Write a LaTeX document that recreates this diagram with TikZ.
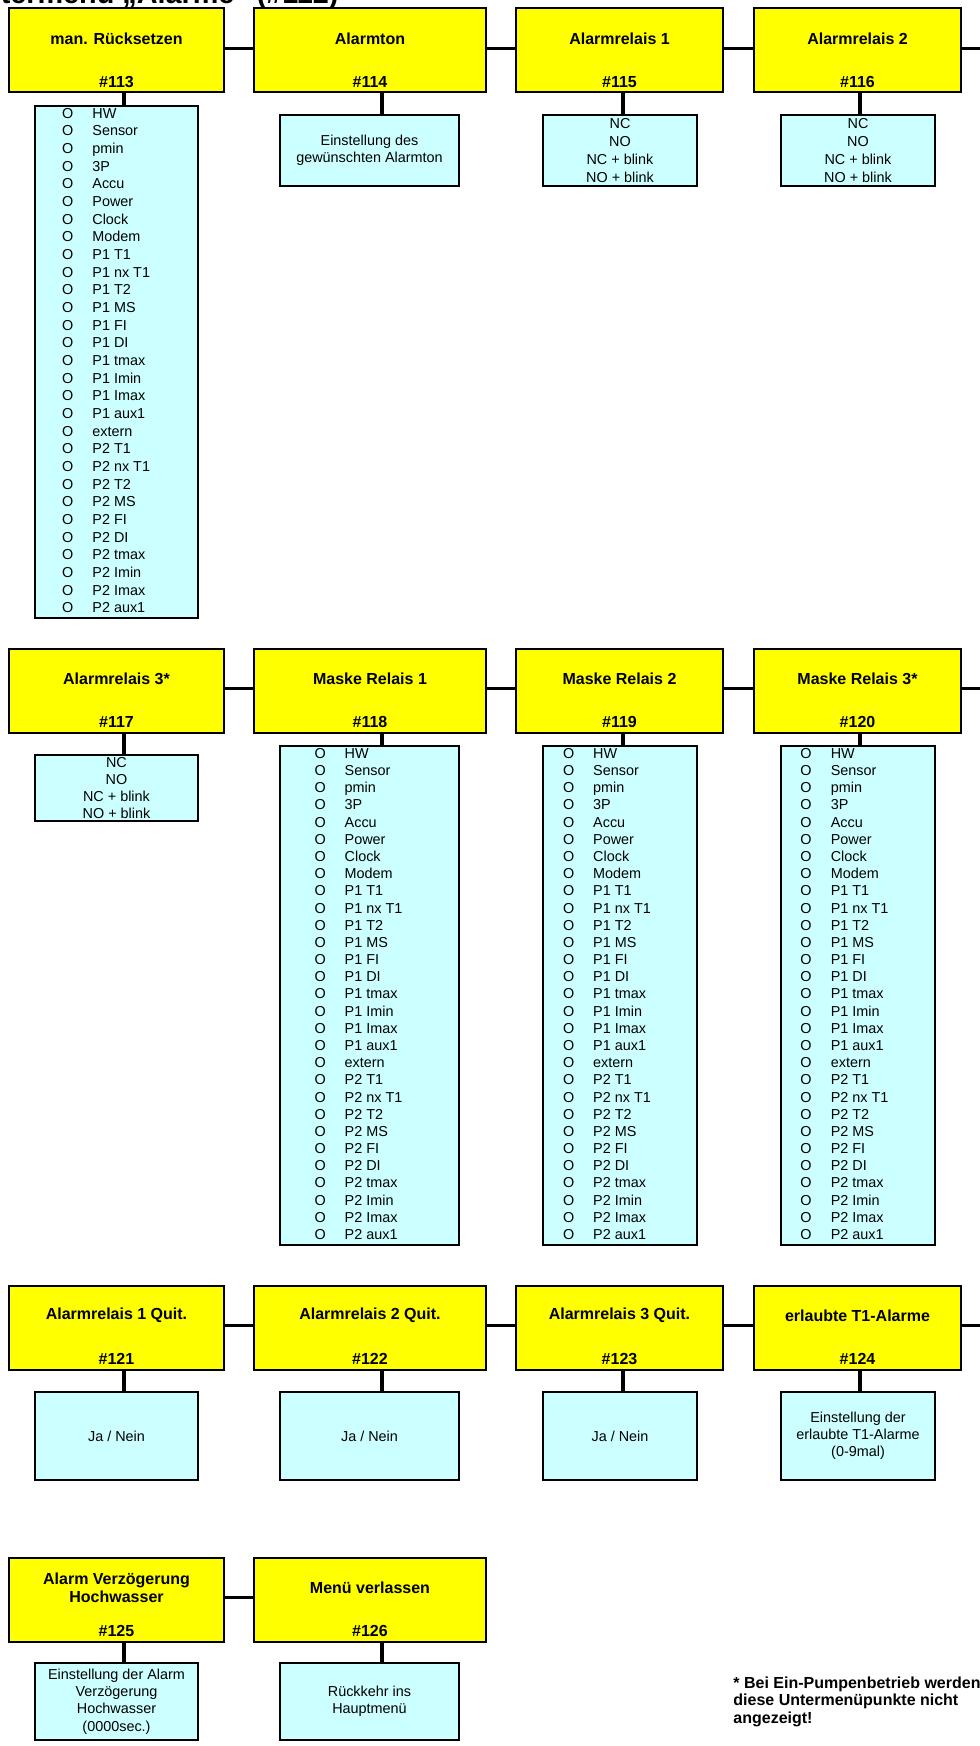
\documentclass[tikz,border=0pt]{standalone}
\usepackage{fontspec}
\setmainfont{Liberation Sans}
\usetikzlibrary{positioning}

\definecolor{menugelb}{RGB}{255,255,0}
\definecolor{listcyan}{RGB}{204,255,255}

\newcommand{\alarmliste}[4]{\makebox[#4][l]{\fontsize{7.2pt}{#3}\selectfont
\begin{tabular}{@{\hspace{#1}}l@{\hspace{#2}}l@{}}
O & HW\\ O & Sensor\\ O & pmin\\ O & 3P\\ O & Accu\\ O & Power\\ O & Clock\\ O & Modem\\
O & P1 T1\\ O & P1 nx T1\\ O & P1 T2\\ O & P1 MS\\ O & P1 FI\\ O & P1 DI\\
O & P1 tmax\\ O & P1 Imin\\ O & P1 Imax\\ O & P1 aux1\\ O & extern\\
O & P2 T1\\ O & P2 nx T1\\ O & P2 T2\\ O & P2 MS\\ O & P2 FI\\ O & P2 DI\\
O & P2 tmax\\ O & P2 Imin\\ O & P2 Imax\\ O & P2 aux1
\end{tabular}}}

\tikzset{
  menu/.style={draw, line width=1pt, fill=menugelb, minimum width=#1, minimum height=42pt, inner sep=0pt},
  sub/.style={draw, line width=1pt, fill=listcyan, minimum width=#1, inner sep=0pt, align=center,
    font=\fontsize{7.2pt}{8.6pt}\selectfont},
  ttl/.style={anchor=center, yshift=-15.5pt, align=center, font=\bfseries\fontsize{8pt}{9pt}\selectfont},
  nr/.style={anchor=center, yshift=5.8pt, font=\bfseries\fontsize{8pt}{9pt}\selectfont},
  link/.style={line width=1.6pt},
}

\begin{document}
\begin{tikzpicture}[x=0.5pt,y=-0.5pt]
\useasboundingbox[fill=white] (0,0) rectangle (980,1746);
\coordinate (rand) at (980,0);

\node[anchor=base west, inner sep=0pt, font=\bfseries\fontsize{14.4pt}{17pt}\selectfont] (kopf) at (-38,3) {Untermenü „Alarme“ (\#112)};

% Zeile 1
\node[menu=107.5pt, label={[ttl]above:man. Rücksetzen}, label={[nr]below:\#113}] (m113) at (116.5,50.3) {};
\node[menu=116pt, label={[ttl]above:Alarmton}, label={[nr]below:\#114}] (m114) at (370,50.3) {};
\node[menu=103.5pt, label={[ttl]above:Alarmrelais 1}, label={[nr]below:\#115}] (m115) at (619.5,50.3) {};
\node[menu=103.5pt, label={[ttl]above:Alarmrelais 2}, label={[nr]below:\#116}] (m116) at (857.5,50.3) {};

\node[sub=81.5pt, minimum height=247pt] (s113) at (116.5,362) {\alarmliste{13.6pt}{9.5pt}{8.83pt}{81.5pt}};
\node[sub=89.5pt, minimum height=35.5pt] (s114) at (369.5,150.5) {Einstellung des\\gewünschten Alarmton};
\node[sub=77pt, minimum height=35.5pt, font=\fontsize{7.2pt}{9pt}\selectfont] (s115) at (620,150.5) {NC\\NO\\NC + blink\\NO + blink};
\node[sub=77pt, minimum height=35.5pt, font=\fontsize{7.2pt}{9pt}\selectfont] (s116) at (858,150.5) {NC\\NO\\NC + blink\\NO + blink};

% Zeile 2
\node[menu=107.5pt, label={[ttl]above:Alarmrelais 3*}, label={[nr]below:\#117}] (m117) at (116.5,690.8) {};
\node[menu=116pt, label={[ttl]above:Maske Relais 1}, label={[nr]below:\#118}] (m118) at (370,690.8) {};
\node[menu=103.5pt, label={[ttl]above:Maske Relais 2}, label={[nr]below:\#119}] (m119) at (619.5,690.8) {};
\node[menu=103.5pt, label={[ttl]above:Maske Relais 3*}, label={[nr]below:\#120}] (m120) at (857.5,690.8) {};

\node[sub=81.5pt, minimum height=33pt, font=\fontsize{7.2pt}{8.35pt}\selectfont] (s117) at (116.5,788) {NC\\NO\\NC + blink\\NO + blink};
\node[sub=89.5pt, minimum height=240.5pt] (s118) at (369.5,995.5) {\alarmliste{17.35pt}{9.4pt}{8.59pt}{89.5pt}};
\node[sub=77pt, minimum height=240.5pt] (s119) at (620,995.5) {\alarmliste{10.05pt}{9.45pt}{8.59pt}{77pt}};
\node[sub=77pt, minimum height=240.5pt] (s120) at (858,995.5) {\alarmliste{9.7pt}{9.6pt}{8.59pt}{77pt}};

% Zeile 3
\node[menu=107.5pt, label={[ttl]above:Alarmrelais 1 Quit.}, label={[nr]below:\#121}] (m121) at (116.5,1327.7) {};
\node[menu=116pt, label={[ttl]above:Alarmrelais 2 Quit.}, label={[nr]below:\#122}] (m122) at (370,1327.7) {};
\node[menu=103.5pt, label={[ttl]above:Alarmrelais 3 Quit.}, label={[nr]below:\#123}] (m123) at (619.5,1327.7) {};
\node[menu=103.5pt, label={[ttl]above:erlaubte T1-Alarme}, label={[nr]below:\#124}] (m124) at (857.5,1327.7) {};

\node[sub=81.5pt, minimum height=44pt] (s121) at (116.5,1436) {Ja / Nein};
\node[sub=89.5pt, minimum height=44pt] (s122) at (369.5,1436) {Ja / Nein};
\node[sub=77pt, minimum height=44pt] (s123) at (620,1436) {Ja / Nein};
\node[sub=77pt, minimum height=44pt] (s124) at (858,1436) {Einstellung der\\erlaubte T1-Alarme\\(0-9mal)};

% Zeile 4
\node[menu=107.5pt, label={[ttl]above:Alarm Verzögerung\\Hochwasser}, label={[nr]below:\#125}] (m125) at (116.5,1599.7) {};
\node[menu=116pt, label={[ttl]above:Menü verlassen}, label={[nr]below:\#126}] (m126) at (370,1599.7) {};

\node[sub=81.5pt, minimum height=38.5pt] (s125) at (116.5,1701.5) {Einstellung der Alarm\\Verzögerung\\Hochwasser\\(0000sec.)};
\node[sub=89.5pt, minimum height=38.5pt] (s126) at (369.5,1701.5) {Rückkehr ins\\Hauptmenü};

\node[anchor=north west, inner sep=0pt, align=left, font=\bfseries\fontsize{8pt}{8.75pt}\selectfont] (hinweis) at (733,1676)
  {* Bei Ein-Pumpenbetrieb werden\\diese Untermenüpunkte nicht\\angezeigt!};

\path[link]
  ([yshift=1pt]m113.east) edge ([yshift=1pt]m114.west)
  ([yshift=1pt]m114.east) edge ([yshift=1pt]m115.west)
  ([yshift=1pt]m115.east) edge ([yshift=1pt]m116.west)
  ([yshift=1pt]m116.east) edge ([yshift=1pt]m116.east -| rand)
  ([yshift=1pt]m117.east) edge ([yshift=1pt]m118.west)
  ([yshift=1pt]m118.east) edge ([yshift=1pt]m119.west)
  ([yshift=1pt]m119.east) edge ([yshift=1pt]m120.west)
  ([yshift=1pt]m120.east) edge ([yshift=1pt]m120.east -| rand)
  ([yshift=1pt]m121.east) edge ([yshift=1pt]m122.west)
  ([yshift=1pt]m122.east) edge ([yshift=1pt]m123.west)
  ([yshift=1pt]m123.east) edge ([yshift=1pt]m124.west)
  ([yshift=1pt]m124.east) edge ([yshift=1pt]m124.east -| rand)
  ([yshift=1pt]m125.east) edge ([yshift=1pt]m126.west);

\path[link]
  ([xshift=3.75pt]m113.south) edge ([xshift=3.75pt]m113.south |- s113.north)
  ([xshift=6pt]m114.south) edge ([xshift=6pt]m114.south |- s114.north)
  ([xshift=1.75pt]m115.south) edge ([xshift=1.75pt]m115.south |- s115.north)
  ([xshift=1.25pt]m116.south) edge ([xshift=1.25pt]m116.south |- s116.north)
  ([xshift=3.75pt]m117.south) edge ([xshift=3.75pt]m117.south |- s117.north)
  ([xshift=6pt]m118.south) edge ([xshift=6pt]m118.south |- s118.north)
  ([xshift=1.75pt]m119.south) edge ([xshift=1.75pt]m119.south |- s119.north)
  ([xshift=1.25pt]m120.south) edge ([xshift=1.25pt]m120.south |- s120.north)
  ([xshift=3.75pt]m121.south) edge ([xshift=3.75pt]m121.south |- s121.north)
  ([xshift=6pt]m122.south) edge ([xshift=6pt]m122.south |- s122.north)
  ([xshift=1.75pt]m123.south) edge ([xshift=1.75pt]m123.south |- s123.north)
  ([xshift=1.25pt]m124.south) edge ([xshift=1.25pt]m124.south |- s124.north)
  ([xshift=3.75pt]m125.south) edge ([xshift=3.75pt]m125.south |- s125.north)
  ([xshift=6pt]m126.south) edge ([xshift=6pt]m126.south |- s126.north);
\end{tikzpicture}
\end{document}
